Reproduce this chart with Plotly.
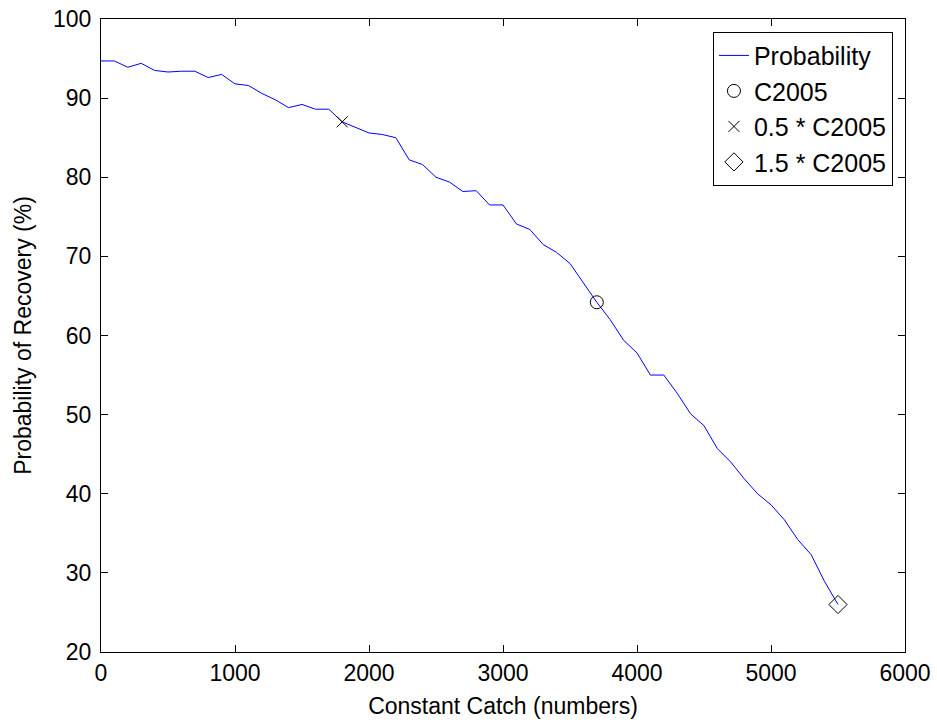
import plotly.graph_objects as go

catch = list(range(0, 5600, 100))
probability = [94.7, 94.7, 93.9, 94.4, 93.5, 93.3, 93.4, 93.4, 92.6, 93.0,
               91.8, 91.6, 90.6, 89.8, 88.8, 89.2, 88.6, 88.6, 87.0, 86.3,
               85.6, 85.4, 85.0, 82.2, 81.6, 80.0, 79.4, 78.2, 78.3, 76.5,
               76.5, 74.1, 73.4, 71.5, 70.5, 69.1, 66.7, 64.2, 62.0, 59.4,
               57.8, 55.0, 55.0, 52.7, 50.1, 48.6, 45.7, 44.0, 41.9, 40.0,
               38.6, 36.7, 34.2, 32.3, 28.9, 26.0]

c2005_x, c2005_y = [3700], [64.2]
half_x, half_y = [1800], [87.0]
onehalf_x, onehalf_y = [5500], [26.0]

xticks = [0, 1000, 2000, 3000, 4000, 5000, 6000]
yticks = [20, 30, 40, 50, 60, 70, 80, 90, 100]

FONT = "Liberation Sans, Arial"
FS = 23
LFS = 25

fig = go.Figure()
fig.add_trace(go.Scatter(x=catch, y=probability, mode="lines", name="Probability",
                         legendgroup="a", line=dict(color="#0000ff", width=1)))
fig.add_trace(go.Scatter(x=c2005_x, y=c2005_y, mode="markers", name="C2005",
                         legendgroup="b",
                         marker=dict(symbol="circle-open", size=13, color="black",
                                     line=dict(width=1, color="black"))))
fig.add_trace(go.Scatter(x=half_x, y=half_y, mode="markers", name="0.5 * C2005",
                         legendgroup="c",
                         marker=dict(symbol="x-thin-open", size=11, color="black",
                                     line=dict(width=1, color="black"))))
fig.add_trace(go.Scatter(x=onehalf_x, y=onehalf_y, mode="markers", name="1.5 * C2005",
                         legendgroup="d",
                         marker=dict(symbol="diamond-open", size=14, color="black",
                                     line=dict(width=1, color="black"))))

axis_common = dict(showline=True, linecolor="black", linewidth=1, mirror="ticks",
                   ticks="inside", ticklen=7, tickcolor="black", showgrid=False,
                   zeroline=False, ticklabeloverflow="allow", automargin=False,
                   tickfont=dict(family=FONT, size=FS, color="black"))

fig.update_layout(
    width=937, height=724,
    margin=dict(l=101, r=32, t=19, b=72),
    paper_bgcolor="white", plot_bgcolor="white",
    font=dict(family=FONT, size=FS, color="black"),
    xaxis=dict(range=[0, 6000], tickvals=xticks,
               title=dict(text="Constant Catch (numbers)", font=dict(size=FS), standoff=13),
               **axis_common),
    yaxis=dict(range=[20, 100], tickvals=yticks, ticklabelstandoff=4,
               title=dict(text="Probability of Recovery (%)", font=dict(size=FS), standoff=14),
               **axis_common),
    legend=dict(x=0.985, y=0.98, xanchor="right", yanchor="top",
                bordercolor="black", borderwidth=1, bgcolor="white",
                font=dict(size=LFS), tracegroupgap=0, itemwidth=30),
    showlegend=True,
)

fig.write_html("out.html", config={"displayModeBar": False},
               post_script="document.body.style.margin='0';document.body.style.overflow='hidden';")
